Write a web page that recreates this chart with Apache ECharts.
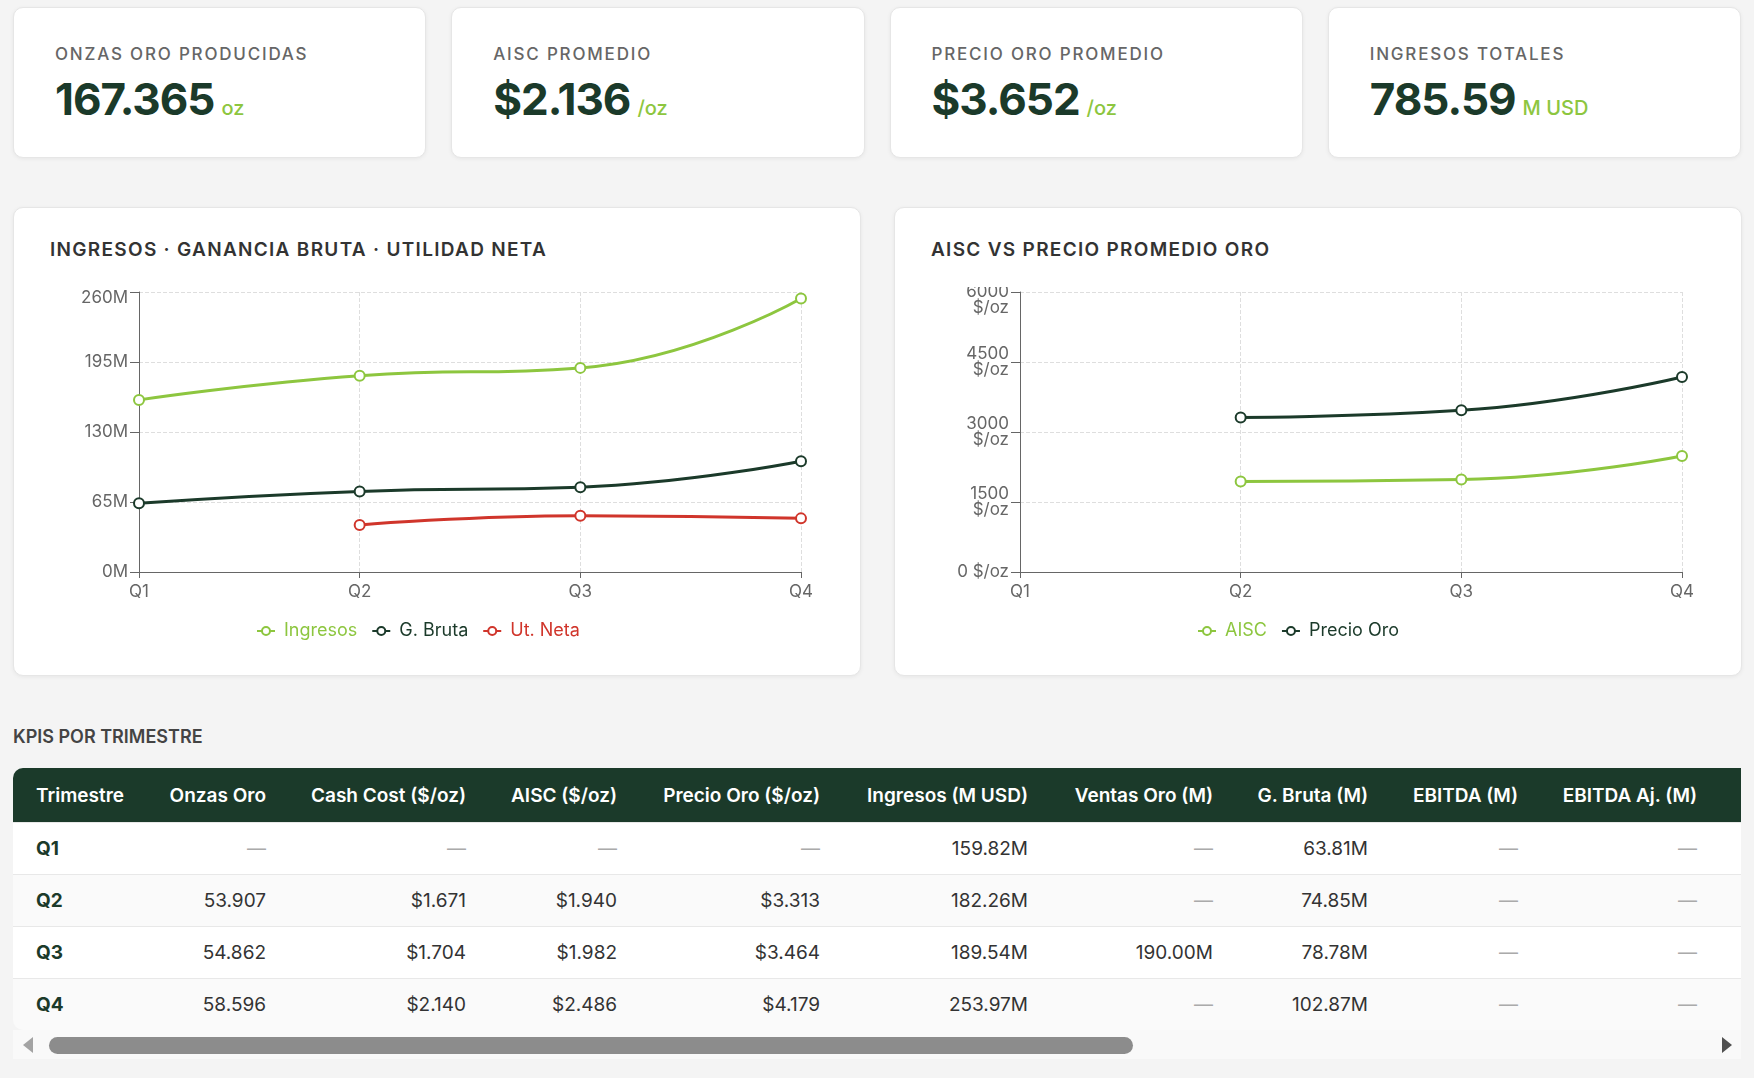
<!DOCTYPE html>
<html lang="es">
<head>
<meta charset="utf-8">
<title>KPIs Oro</title>
<script src="https://cdn.jsdelivr.net/npm/echarts@6/dist/echarts.min.js"></script>
<style>
* { box-sizing: border-box; }
body { margin: 0; width: 1754px; height: 1078px; background: #f4f4f4; font-family: Inter, "Noto Sans", sans-serif; position: relative; overflow: hidden; }
.kpis { position: absolute; left: 13px; top: 7px; width: 1728px; display: grid; grid-template-columns: repeat(4, 1fr); column-gap: 25px; }
.kpi { height: 151px; background: #fff; border: 1px solid #e6e6e6; border-radius: 10px; box-shadow: 0 1px 4px rgba(0,0,0,0.06); padding: 36px 0 0 41px; }
.kpi .lbl { font-size: 17px; line-height: 20px; letter-spacing: 1.8px; color: #666; font-weight: 500; }
.kpi .val { margin-top: 10px; font-size: 44px; line-height: 50px; font-weight: 700; color: #1b3a2a; letter-spacing: -1px; white-space: nowrap; }
.kpi .unit { font-size: 20px; font-weight: 500; color: #8dc63f; letter-spacing: 0; margin-left: 7px; }
.card { position: absolute; top: 207px; width: 848px; height: 469px; background: #fff; border: 1px solid #e6e6e6; border-radius: 10px; box-shadow: 0 1px 4px rgba(0,0,0,0.06); }
.card h3 { position: absolute; left: 36px; top: 31px; margin: 0; font-size: 19px; line-height: 22px; font-weight: 600; letter-spacing: 1.3px; color: #333; }
.card .chart { position: absolute; left: 36px; top: 79px; width: 773px; height: 360px; }
.sec-title { position: absolute; left: 13px; top: 726px; margin: 0; font-size: 18px; line-height: 22px; font-weight: 600; letter-spacing: 0; color: #444; }
.tbl-wrap { position: absolute; left: 13px; top: 768px; width: 1728px; overflow: hidden; }
table { border-collapse: separate; border-spacing: 0; table-layout: fixed; }
th { height: 54px; background: #1b3a2a; color: #fff; font-size: 19px; font-weight: 600; text-align: right; padding: 0 21px; white-space: nowrap; }
th:first-child { text-align: left; padding-left: 23px; border-top-left-radius: 10px; }
td { height: 52px; font-size: 19px; color: #333; text-align: right; padding: 0 21px; white-space: nowrap; background: #fff; border-top: 1px solid #e8e8e8; }
tbody tr:nth-child(even) td { background: #fafafa; }
td:first-child { text-align: left; padding-left: 23px; font-weight: 700; color: #1b3a2a; }
tbody tr:last-child td:first-child { border-bottom-left-radius: 10px; }
td.na { color: #aaa; }
.sbar { position: absolute; left: 13px; top: 1030px; width: 1728px; height: 29px; background: #f9f9f9; }
.sbar .thumb { position: absolute; left: 36px; top: 7px; width: 1084px; height: 17px; border-radius: 9px; background: #8c8c8c; }
.sbar .al { position: absolute; left: 10px; top: 7px; width: 0; height: 0; border-top: 8px solid transparent; border-bottom: 8px solid transparent; border-right: 10px solid #a3a3a3; }
.sbar .ar { position: absolute; right: 9px; top: 7px; width: 0; height: 0; border-top: 8px solid transparent; border-bottom: 8px solid transparent; border-left: 10px solid #505050; }
</style>
</head>
<body>
<div class="kpis" id="kpis"></div>

<div class="card" style="left:13px">
  <h3>INGRESOS · GANANCIA BRUTA · UTILIDAD NETA</h3>
  <div class="chart" id="chart-ingresos"></div>
</div>
<div class="card" style="left:894px">
  <h3>AISC VS PRECIO PROMEDIO ORO</h3>
  <div class="chart" id="chart-aisc"></div>
</div>

<h4 class="sec-title">KPIS POR TRIMESTRE</h4>
<div class="tbl-wrap"><table id="kpi-table"></table></div>
<div class="sbar"><div class="al"></div><div class="thumb"></div><div class="ar"></div></div>

<script>
var quarters = ['Q1', 'Q2', 'Q3', 'Q4'];
var onzasOro = [null, 53907, 54862, 58596];
var cashCost = [null, 1671, 1704, 2140];
var aisc = [null, 1940, 1982, 2486];
var precioOro = [null, 3313, 3464, 4179];
var ingresos = [159.82, 182.26, 189.54, 253.97];
var ventasOro = [null, null, 190.00, null];
var gBruta = [63.81, 74.85, 78.78, 102.87];
var ebitda = [null, null, null, null];
var ebitdaAj = [null, null, null, null];
var utNeta = [null, 43.6, 52.3, 49.8];

var ingresosTicks = { min: 0, max: 260, interval: 65 };
var aiscTicks = { min: 0, max: 6000, interval: 1500 };

var COLOR_GREEN = '#8dc63f';
var COLOR_DARK = '#1b3a2a';
var COLOR_RED = '#d0352b';

function miles(n) {
    return Math.round(n).toString().replace(/\B(?=(\d{3})+(?!\d))/g, '.');
}
function sum(arr) {
    var s = 0;
    arr.forEach(function (v) { if (v != null) s += v; });
    return s;
}
function avg(arr) {
    var vals = arr.filter(function (v) { return v != null; });
    return sum(vals) / vals.length;
}

// tarjetas KPI
var kpis = [
    { label: 'ONZAS ORO PRODUCIDAS', value: miles(sum(onzasOro)), unit: 'oz' },
    { label: 'AISC PROMEDIO', value: '$' + miles(avg(aisc)), unit: '/oz' },
    { label: 'PRECIO ORO PROMEDIO', value: '$' + miles(avg(precioOro)), unit: '/oz' },
    { label: 'INGRESOS TOTALES', value: sum(ingresos).toFixed(2), unit: 'M USD' }
];
document.getElementById('kpis').innerHTML = kpis.map(function (k) {
    return '<div class="kpi"><div class="lbl">' + k.label + '</div><div class="val">' + k.value +
        '<span class="unit">' + k.unit + '</span></div></div>';
}).join('');

// tabla
function fmtInt(v) { return miles(v); }
function fmtUsd(v) { return '$' + miles(v); }
function fmtM(v) { return v.toFixed(2) + 'M'; }
var columns = [
    { name: 'Trimestre', width: 133 },
    { name: 'Onzas Oro', width: 141, data: onzasOro, fmt: fmtInt },
    { name: 'Cash Cost ($/oz)', width: 200, data: cashCost, fmt: fmtUsd },
    { name: 'AISC ($/oz)', width: 151, data: aisc, fmt: fmtUsd },
    { name: 'Precio Oro ($/oz)', width: 203, data: precioOro, fmt: fmtUsd },
    { name: 'Ingresos (M USD)', width: 208, data: ingresos, fmt: fmtM },
    { name: 'Ventas Oro (M)', width: 185, data: ventasOro, fmt: fmtM },
    { name: 'G. Bruta (M)', width: 155, data: gBruta, fmt: fmtM },
    { name: 'EBITDA (M)', width: 150, data: ebitda, fmt: fmtM },
    { name: 'EBITDA Aj. (M)', width: 179, data: ebitdaAj, fmt: fmtM },
    { name: 'Ut. Neta (M)', width: 160, data: utNeta, fmt: fmtM }
];
var html = '<colgroup>';
var tableWidth = 0;
columns.forEach(function (c) { html += '<col style="width:' + c.width + 'px">'; tableWidth += c.width; });
html += '</colgroup><thead><tr>';
columns.forEach(function (c) { html += '<th>' + c.name + '</th>'; });
html += '</tr></thead><tbody>';
quarters.forEach(function (q, i) {
    html += '<tr><td>' + q + '</td>';
    columns.slice(1).forEach(function (c) {
        var v = c.data[i];
        html += v == null ? '<td class="na">—</td>' : '<td>' + c.fmt(v) + '</td>';
    });
    html += '</tr>';
});
html += '</tbody>';
var table = document.getElementById('kpi-table');
table.innerHTML = html;
table.style.width = tableWidth + 'px';

// graficos
// la etiqueta superior del eje Y va un poco mas abajo que su marca (rich "mx")
function baseOption(yTicks, yFormatter, topPad) {
    return {
        animation: false,
        grid: { left: 89, right: 22, top: 5, bottom: 75, outerBoundsMode: 'none' },
        xAxis: {
            type: 'category',
            data: quarters,
            boundaryGap: false,
            axisLine: { lineStyle: { color: '#666', width: 1 } },
            axisTick: { show: true, length: 6, lineStyle: { color: '#666' } },
            axisLabel: { color: '#666', fontSize: 17, fontFamily: 'Inter', margin: 11 },
            splitLine: { show: true, lineStyle: { type: 'dashed', color: '#dedede' } }
        },
        yAxis: {
            type: 'value',
            min: yTicks.min,
            max: yTicks.max,
            interval: yTicks.interval,
            axisLine: { show: true, lineStyle: { color: '#666', width: 1 } },
            axisTick: { show: true, length: 9, lineStyle: { color: '#666' } },
            axisLabel: {
                color: '#666', fontSize: 17, fontFamily: 'Inter', margin: 11, lineHeight: 16,
                align: 'right', formatter: yFormatter,
                rich: {
                    mx: { color: '#666', fontSize: 17, fontFamily: 'Inter', lineHeight: 16, padding: [topPad, 0, 0, 0] },
                    n: { color: '#666', fontSize: 17, fontFamily: 'Inter', lineHeight: 16 }
                }
            },
            splitLine: { show: true, lineStyle: { type: 'dashed', color: '#dedede' } }
        }
    };
}
function lineSeries(name, data, color) {
    return {
        name: name,
        type: 'line',
        data: data,
        smooth: true,
        symbol: 'emptyCircle',
        symbolSize: 10,
        lineStyle: { color: color, width: 3 },
        itemStyle: { color: color, borderColor: color, borderWidth: 3 }
    };
}
function legendOf(names, colors, left) {
    return {
        top: 330,
        left: left,
        itemWidth: 18,
        itemHeight: 10,
        itemGap: 14,
        textStyle: { fontSize: 18, fontFamily: 'Inter', padding: [0, 0, 0, 4] },
        data: names.map(function (n, i) { return { name: n, textStyle: { color: colors[i] } }; })
    };
}

var chartIngresos = echarts.init(document.getElementById('chart-ingresos'));
var opt1 = baseOption(ingresosTicks, function (v) {
    return v === ingresosTicks.max ? '{mx|' + v + 'M}' : '{n|' + v + 'M}';
}, 11);
opt1.legend = legendOf(['Ingresos', 'G. Bruta', 'Ut. Neta'], [COLOR_GREEN, COLOR_DARK, COLOR_RED], 201);
opt1.series = [
    lineSeries('Ingresos', ingresos, COLOR_GREEN),
    lineSeries('G. Bruta', gBruta, COLOR_DARK),
    lineSeries('Ut. Neta', utNeta, COLOR_RED)
];
chartIngresos.setOption(opt1);

var chartAisc = echarts.init(document.getElementById('chart-aisc'));
var opt2 = baseOption(aiscTicks, function (v) {
    if (v === 0) return '{n|0 $/oz}';
    if (v === aiscTicks.max) return '{mx|' + v + '}\n{mx|$/oz}';
    return '{n|' + v + '}\n{n|$/oz}';
}, 16);
opt2.legend = legendOf(['AISC', 'Precio Oro'], [COLOR_GREEN, COLOR_DARK], 261);
opt2.series = [
    lineSeries('AISC', aisc, COLOR_GREEN),
    lineSeries('Precio Oro', precioOro, COLOR_DARK)
];
chartAisc.setOption(opt2);
</script>
</body>
</html>
